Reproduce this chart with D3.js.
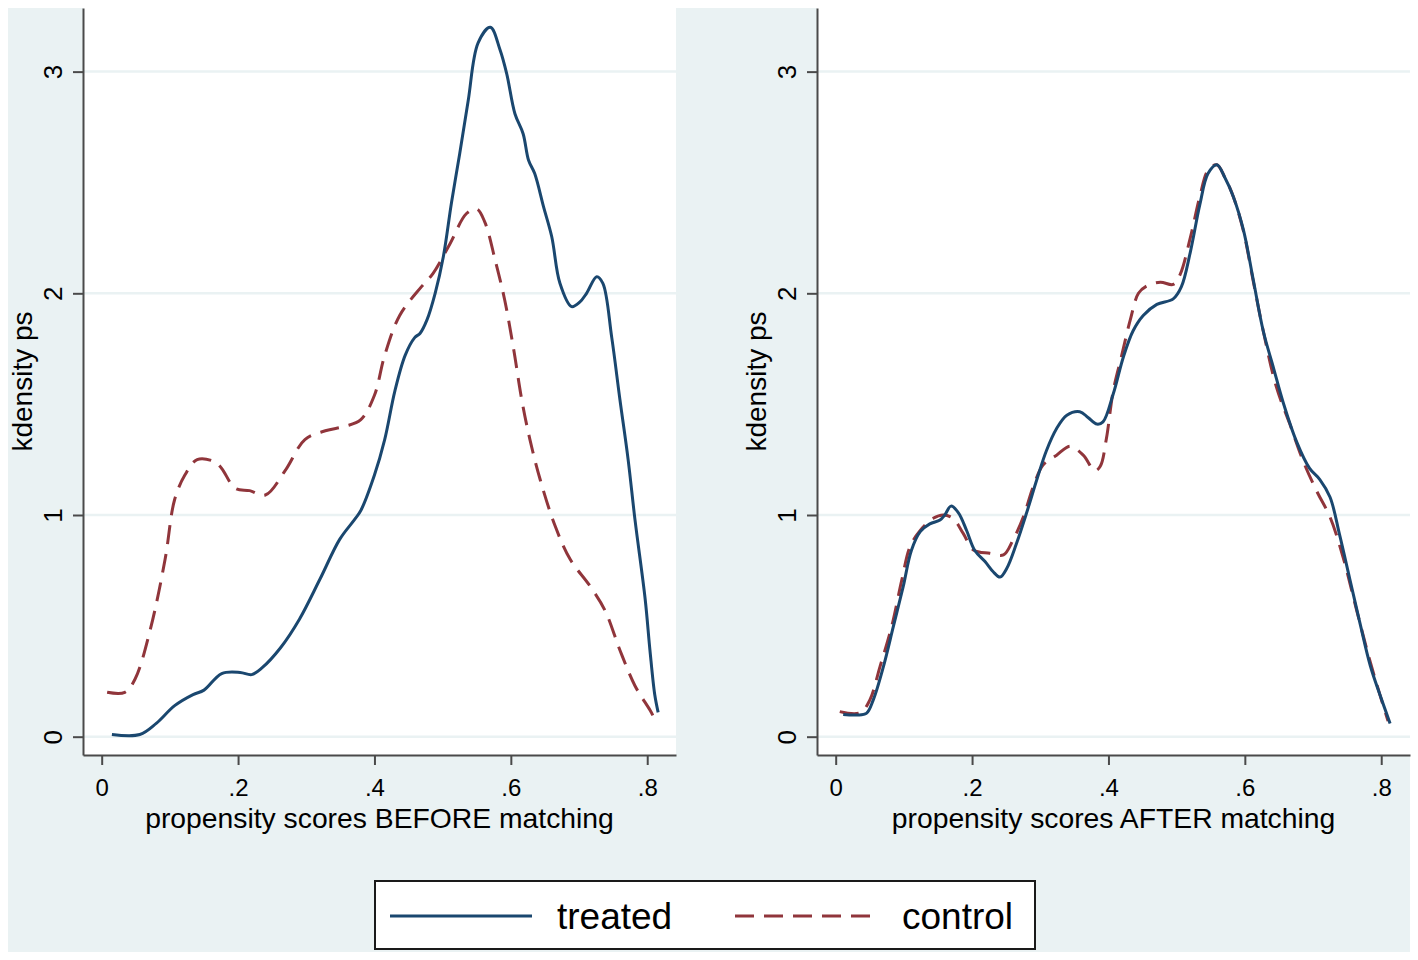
<!DOCTYPE html>
<html>
<head>
<meta charset="utf-8">
<script src="https://cdn.jsdelivr.net/npm/d3@7"></script>
<style>
  body { margin: 0; background: #ffffff; }
  svg { display: block; font-family: "Liberation Sans", Arial, sans-serif; }
</style>
</head>
<body>
<svg id="chart" width="1418" height="960"></svg>
<script>
// ---------------- DATA ----------------
const xTicks = [0, 0.2, 0.4, 0.6, 0.8];
const yTicks = [0, 1, 2, 3];
const seriesNames = ["treated", "control"];
const panelTitles = ["propensity scores BEFORE matching", "propensity scores AFTER matching"];
const yTitle = "kdensity ps";

const beforeTreated = [
  [0.015,0.01],[0.056,0.01],[0.08,0.06],[0.107,0.14],[0.134,0.19],[0.150,0.21],[0.176,0.285],
  [0.203,0.29],[0.22,0.28],[0.235,0.31],[0.262,0.40],[0.29,0.53],[0.32,0.71],[0.349,0.89],
  [0.371,0.98],[0.38,1.02],[0.40,1.18],[0.415,1.34],[0.43,1.56],[0.445,1.72],[0.459,1.80],
  [0.467,1.82],[0.477,1.88],[0.489,2.0],[0.501,2.165],[0.513,2.41],[0.525,2.63],[0.5375,2.87],
  [0.552,3.13],[0.570,3.20],[0.584,3.10],[0.594,2.99],[0.606,2.81],[0.618,2.72],[0.626,2.60],
  [0.635,2.54],[0.648,2.39],[0.66,2.255],[0.672,2.045],[0.689,1.94],[0.701,1.96],[0.711,2.0],
  [0.726,2.075],[0.735,2.045],[0.748,1.80],[0.760,1.52],[0.772,1.25],[0.782,0.98],[0.797,0.62],
  [0.804,0.39],[0.811,0.19],[0.816,0.11]
];
const beforeControl = [
  [0.008,0.20],[0.034,0.20],[0.049,0.26],[0.071,0.48],[0.093,0.80],[0.107,1.07],[0.122,1.18],
  [0.14,1.25],[0.166,1.24],[0.176,1.21],[0.196,1.12],[0.217,1.11],[0.24,1.09],[0.269,1.20],
  [0.298,1.34],[0.328,1.38],[0.357,1.40],[0.38,1.43],[0.40,1.54],[0.415,1.72],[0.437,1.90],
  [0.469,2.03],[0.486,2.09],[0.511,2.225],[0.535,2.36],[0.55,2.38],[0.562,2.32],[0.577,2.15],
  [0.591,1.97],[0.604,1.75],[0.616,1.52],[0.628,1.34],[0.643,1.16],[0.665,0.95],[0.687,0.80],
  [0.716,0.68],[0.738,0.57],[0.76,0.39],[0.782,0.23],[0.804,0.12],[0.811,0.08]
];
const afterTreated = [
  [0.011,0.10],[0.031,0.098],[0.045,0.105],[0.055,0.165],[0.070,0.316],[0.0845,0.496],[0.099,0.677],
  [0.111,0.84],[0.124,0.925],[0.138,0.96],[0.153,0.977],[0.16,1.0],[0.169,1.04],[0.18,1.01],
  [0.192,0.93],[0.204,0.84],[0.219,0.79],[0.231,0.744],[0.241,0.72],[0.251,0.76],[0.265,0.87],
  [0.28,1.01],[0.295,1.16],[0.309,1.29],[0.324,1.39],[0.339,1.45],[0.358,1.466],[0.37,1.44],
  [0.383,1.41],[0.392,1.42],[0.407,1.546],[0.422,1.714],[0.436,1.83],[0.451,1.90],[0.471,1.95],
  [0.495,1.975],[0.507,2.03],[0.52,2.185],[0.534,2.40],[0.546,2.54],[0.559,2.58],[0.571,2.52],
  [0.583,2.437],[0.598,2.285],[0.612,2.067],[0.627,1.83],[0.642,1.664],[0.656,1.51],[0.676,1.33],
  [0.695,1.21],[0.71,1.16],[0.725,1.08],[0.739,0.91],[0.754,0.71],[0.769,0.51],[0.784,0.32],
  [0.798,0.19],[0.813,0.06]
];
const afterControl = [
  [0.006,0.113],[0.036,0.108],[0.050,0.165],[0.065,0.316],[0.082,0.496],[0.097,0.707],[0.109,0.857],
  [0.124,0.93],[0.143,0.985],[0.158,1.0],[0.172,0.985],[0.187,0.917],[0.202,0.842],[0.226,0.827],
  [0.246,0.82],[0.26,0.887],[0.275,0.99],[0.29,1.13],[0.304,1.225],[0.324,1.27],[0.344,1.31],
  [0.363,1.27],[0.38,1.20],[0.388,1.22],[0.397,1.345],[0.407,1.56],[0.419,1.714],[0.432,1.88],
  [0.444,2.0],[0.456,2.033],[0.476,2.05],[0.495,2.04],[0.505,2.084],[0.52,2.25],[0.534,2.437],
  [0.546,2.555],[0.559,2.58],[0.571,2.52],[0.583,2.437],[0.598,2.28],[0.612,2.06],[0.627,1.83],
  [0.646,1.58],[0.666,1.41],[0.686,1.24],[0.705,1.11],[0.725,0.99],[0.744,0.81],[0.764,0.57],
  [0.784,0.336],[0.798,0.19],[0.81,0.07]
];

// ---------------- STYLE / LAYOUT ----------------
const W = 1418, H = 960;
const bg = "#eaf2f3";
const colTreated = "#1a476f";
const colControl = "#90353b";
const axisColor = "#4a4a4a";
const xDomain = [-0.0274, 0.8422];
const yDomain = [-0.0826, 3.287];
const plotTop = 8, plotBottom = 755, plotW = 593;
const panelLefts = [83, 817];
const panels = [
  { treated: beforeTreated, control: beforeControl, title: panelTitles[0] },
  { treated: afterTreated,  control: afterControl,  title: panelTitles[1] }
];

const svg = d3.select("#chart");
svg.append("rect").attr("x", 0).attr("y", 0).attr("width", W).attr("height", H).attr("fill", "#ffffff");
svg.append("rect").attr("x", 8).attr("y", 8).attr("width", W - 16).attr("height", H - 16).attr("fill", bg);

const fmtX = d => d === 0 ? "0" : d3.format(".1f")(d).replace(/^0/, "");

panels.forEach((p, i) => {
  const left = panelLefts[i];
  const x = d3.scaleLinear().domain(xDomain).range([left, left + plotW]);
  const y = d3.scaleLinear().domain(yDomain).range([plotBottom, plotTop]);
  const g = svg.append("g");

  g.append("rect").attr("x", left).attr("y", plotTop).attr("width", plotW)
    .attr("height", plotBottom - plotTop).attr("fill", "#ffffff");

  // gridlines
  g.selectAll(".grid").data(yTicks).enter().append("line")
    .attr("x1", left).attr("x2", left + plotW)
    .attr("y1", d => y(d)).attr("y2", d => y(d))
    .attr("stroke", bg).attr("stroke-width", 2.5);

  const line = d3.line().x(d => x(d[0])).y(d => y(d[1])).curve(d3.curveCatmullRom.alpha(0.5));

  g.append("path").datum(p.control).attr("d", line).attr("fill", "none")
    .attr("stroke", colControl).attr("stroke-width", 3).attr("stroke-dasharray", "19,10")
    .attr("stroke-linejoin", "round");
  g.append("path").datum(p.treated).attr("d", line).attr("fill", "none")
    .attr("stroke", colTreated).attr("stroke-width", 3).attr("stroke-linejoin", "round");

  // y axis
  const ya = g.append("g").attr("transform", `translate(${left},0)`)
    .call(d3.axisLeft(y).tickValues(yTicks).tickSize(10).tickSizeOuter(0).tickFormat(d3.format("d")));
  ya.select(".domain").attr("stroke", axisColor).attr("stroke-width", 2);
  ya.selectAll(".tick line").attr("stroke", axisColor).attr("stroke-width", 2);
  ya.selectAll(".tick text")
    .attr("x", 0).attr("y", -21).attr("dy", 0)
    .attr("transform", "rotate(-90)")
    .attr("text-anchor", "middle")
    .attr("fill", "#000").style("font-size", "26px")
    .style("font-family", "'Liberation Sans', Arial, sans-serif");

  // x axis
  const xa = g.append("g").attr("transform", `translate(0,${plotBottom})`)
    .call(d3.axisBottom(x).tickValues(xTicks).tickSize(10).tickSizeOuter(0).tickFormat(fmtX));
  xa.select(".domain").attr("stroke", axisColor).attr("stroke-width", 2);
  xa.selectAll(".tick line").attr("stroke", axisColor).attr("stroke-width", 2);
  xa.selectAll(".tick text")
    .attr("y", 41).attr("dy", 0)
    .attr("fill", "#000").style("font-size", "24px")
    .style("font-family", "'Liberation Sans', Arial, sans-serif");

  // titles
  g.append("text").attr("x", left + plotW / 2).attr("y", 828)
    .attr("text-anchor", "middle").attr("fill", "#000").style("font-size", "28.3px")
    .text(p.title);
  g.append("text")
    .attr("transform", `translate(${left - 51},${(plotTop + plotBottom) / 2}) rotate(-90)`)
    .attr("text-anchor", "middle").attr("fill", "#000").style("font-size", "28px")
    .text(yTitle);
});

// legend
const lg = svg.append("g");
lg.append("rect").attr("x", 375).attr("y", 881).attr("width", 660).attr("height", 68)
  .attr("fill", "#ffffff").attr("stroke", "#1a1a1a").attr("stroke-width", 2);
const legendItems = [
  { name: seriesNames[0], color: colTreated, dash: null, x1: 390, x2: 532, tx: 557 },
  { name: seriesNames[1], color: colControl, dash: "19,10", x1: 735, x2: 878, tx: 902 }
];
legendItems.forEach(it => {
  lg.append("line").attr("x1", it.x1).attr("x2", it.x2).attr("y1", 916).attr("y2", 916)
    .attr("stroke", it.color).attr("stroke-width", 3)
    .attr("stroke-dasharray", it.dash);
  lg.append("text").attr("x", it.tx).attr("y", 929).attr("fill", "#000")
    .style("font-size", "37px").text(it.name);
});
</script>
</body>
</html>
